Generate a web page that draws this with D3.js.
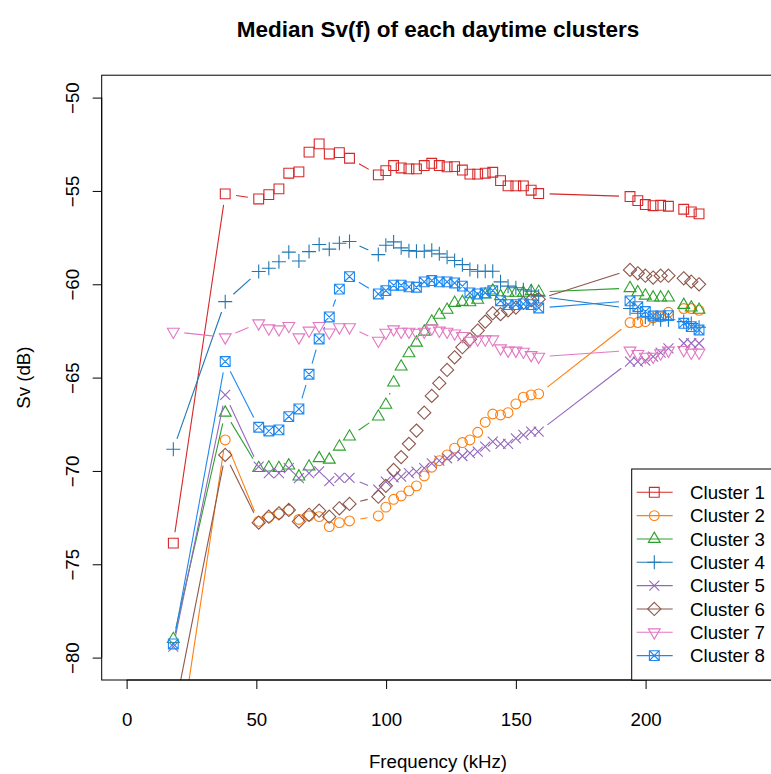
<!DOCTYPE html>
<html><head><meta charset="utf-8">
<script src="https://cdn.jsdelivr.net/npm/d3@7"></script>
<style>
body{margin:0;background:#fff}
svg{display:block}
text{font-family:"Liberation Sans",Arial,Helvetica,sans-serif;fill:#000}
</style>
</head><body><svg id="c" width="771" height="774"></svg>
<script>
// ---------- data ----------
const freqs = [18, 38,
  50.9, 54.8, 58.7, 62.5, 66.4, 70.3, 74.2, 78.1, 82.0, 85.9,
  97.0, 99.9, 102.9, 105.8, 108.8, 111.7, 114.7, 117.6, 120.5, 123.5, 126.4,
  129.4, 132.3, 135.3, 138.2, 141.1, 144.1, 147.0, 150.0, 152.9, 155.9, 158.8,
  194.0, 197.0, 199.9, 202.9, 205.8, 208.8, 214.7, 217.6, 220.6];

const cluster1 = [-73.87, -55.16,
  -55.43, -55.20, -54.89, -54.05, -53.98, -52.92, -52.48, -53.02, -52.95, -53.25,
  -54.14, -53.91, -53.64, -53.77, -53.82, -53.82, -53.64, -53.52, -53.64, -53.71, -53.70,
  -53.88, -54.10, -54.10, -54.05, -54.00, -54.45, -54.73, -54.73, -54.73, -54.96, -55.14,
  -55.30, -55.52, -55.73, -55.79, -55.77, -55.82, -55.98, -56.12, -56.23];
const cluster2 = [-86.8, -68.34,
  -72.70, -72.48, -72.30, -72.10, -72.60, -72.41, -72.45, -72.98, -72.77, -72.68,
  -72.41, -71.94, -71.52, -71.34, -71.07, -70.80, -70.27, -69.80, -69.45, -69.14, -68.78,
  -68.48, -68.34, -67.93, -67.39, -66.95, -67.00, -66.88, -66.41, -66.05, -65.93, -65.87,
  -62.05, -62.05, -62.00, -61.80, -61.75, -61.50, -61.30, -61.30, -61.40];
const cluster3 = [-79.01, -66.88,
  -69.85, -69.82, -69.85, -69.71, -70.30, -69.77, -69.32, -69.40, -68.70, -68.16,
  -67.09, -66.46, -65.27, -64.41, -63.70, -63.13, -62.54, -62.00, -61.64, -61.37, -61.00,
  -60.95, -60.97, -60.83, -60.55, -60.34, -60.64, -60.46, -60.46, -60.46, -60.37, -60.41,
  -60.21, -60.43, -60.61, -60.71, -60.71, -60.71, -61.11, -61.25, -61.37];
const cluster4 = [-68.84, -60.93,
  -59.32, -59.14, -58.79, -58.28, -58.75, -58.25, -57.87, -58.12, -57.80, -57.71,
  -58.41, -57.91, -57.73, -58.05, -58.20, -58.23, -58.23, -58.18, -58.37, -58.55, -58.73,
  -58.95, -59.21, -59.30, -59.30, -59.30, -59.87, -60.10, -60.19, -60.29, -60.37, -60.64,
  -61.30, -61.55, -61.75, -61.85, -61.90, -61.90, -62.00, -62.10, -62.30];
const cluster5 = [-79.41, -65.93,
  -69.77, -70.12, -70.12, -69.85, -70.39, -70.12, -70.02, -70.55, -70.37, -70.37,
  -71.00, -70.57, -70.34, -70.30, -70.12, -70.04, -69.85, -69.59, -69.45, -69.32, -69.14,
  -69.20, -69.05, -68.96, -68.70, -68.43, -68.55, -68.55, -68.25, -68.07, -67.89, -67.89,
  -64.14, -64.14, -64.09, -63.88, -63.66, -63.43, -63.16, -63.16, -63.16];
const cluster6 = [-83.2, -69.14,
  -72.77, -72.45, -72.27, -72.09, -72.71, -72.35, -72.13, -72.45, -72.00, -71.77,
  -71.38, -70.80, -69.95, -69.26, -68.55, -67.84, -66.88, -65.98, -65.30, -64.59, -63.91,
  -63.37, -62.95, -62.48, -62.00, -61.55, -61.60, -61.40, -61.25, -61.00, -60.85, -60.80,
  -59.23, -59.41, -59.54, -59.64, -59.54, -59.54, -59.68, -59.86, -60.00];
const cluster7 = [-62.54, -62.84,
  -62.09, -62.36, -62.41, -62.23, -62.84, -62.48, -62.23, -62.58, -62.30, -62.30,
  -63.02, -62.59, -62.41, -62.54, -62.54, -62.59, -62.54, -62.36, -62.48, -62.54, -62.63,
  -62.77, -63.02, -62.95, -62.95, -62.95, -63.43, -63.55, -63.55, -63.61, -63.79, -63.88,
  -63.55, -63.73, -63.88, -63.88, -63.70, -63.55, -63.52, -63.66, -63.66];
const cluster8 = [-79.27, -64.14,
  -67.66, -67.86, -67.80, -67.09, -66.68, -64.82, -62.93, -61.75, -60.26, -59.59,
  -60.52, -60.34, -60.05, -60.05, -60.14, -60.16, -59.87, -59.80, -59.87, -59.87, -59.93,
  -60.10, -60.46, -60.52, -60.46, -60.34, -60.88, -61.09, -61.09, -61.05, -61.09, -61.27,
  -60.89, -61.20, -61.46, -61.70, -61.70, -61.68, -62.09, -62.27, -62.45];

const seriesNames = ["Cluster 1","Cluster 2","Cluster 3","Cluster 4","Cluster 5","Cluster 6","Cluster 7","Cluster 8"];
const seriesValues = [cluster1, cluster2, cluster3, cluster4, cluster5, cluster6, cluster7, cluster8];
const seriesColors = ["#D62728","#FF7F0E","#2CA02C","#1F77B4","#9467BD","#8C564B","#E377C2","#1E88F0"];
const seriesShapes = ["square","circle","triUp","plus","cross","diamond","triDown","boxX"];
const xTicks = [0, 50, 100, 150, 200];
const yTicks = [-80, -75, -70, -65, -60, -55, -50];
const titleText = "Median Sv(f) of each daytime clusters";
const xLabelText = "Frequency (kHz)";
const yLabelText = "Sv (dB)";

// ---------- layout ----------
const L = 101.7, R = 774.3, T = 75.2, B = 680;
const FS = 18.7;
const x = d3.scaleLinear().domain([-9.6, 249.6]).range([L, R]);
const y = d3.scaleLinear().domain([-81.2, -48.8]).range([B, T]);
const svg = d3.select("#c");
const fmt = d => d < 0 ? "\u2212" + Math.abs(d) : String(d);

svg.append("defs").append("clipPath").attr("id","clip")
  .append("rect").attr("x", L).attr("y", T).attr("width", R - L).attr("height", B - T);

function markerPath(shape, cx, cy) {
  const p = d3.path();
  if (shape === "square" || shape === "boxX") {
    const h = 4.9;
    p.rect(cx - h, cy - h, 2*h, 2*h);
    if (shape === "boxX") {
      p.moveTo(cx - h, cy - h); p.lineTo(cx + h, cy + h);
      p.moveTo(cx - h, cy + h); p.lineTo(cx + h, cy - h);
    }
  } else if (shape === "circle") {
    p.moveTo(cx + 4.9, cy); p.arc(cx, cy, 4.9, 0, 2*Math.PI);
  } else if (shape === "triUp" || shape === "triDown") {
    const b = 4.4, s = shape === "triUp" ? 1 : -1;
    p.moveTo(cx, cy - s*1.555*b);
    p.lineTo(cx + 1.347*b, cy + s*0.778*b);
    p.lineTo(cx - 1.347*b, cy + s*0.778*b);
    p.closePath();
  } else if (shape === "plus") {
    const h = 7;
    p.moveTo(cx - h, cy); p.lineTo(cx + h, cy);
    p.moveTo(cx, cy - h); p.lineTo(cx, cy + h);
  } else if (shape === "cross") {
    const h = 5;
    p.moveTo(cx - h, cy - h); p.lineTo(cx + h, cy + h);
    p.moveTo(cx - h, cy + h); p.lineTo(cx + h, cy - h);
  } else if (shape === "diamond") {
    const h = 6.6;
    p.moveTo(cx, cy - h); p.lineTo(cx + h, cy); p.lineTo(cx, cy + h); p.lineTo(cx - h, cy); p.closePath();
  }
  return p.toString();
}

// ---------- series (type = "b": lines with gaps around points) ----------
const plotG = svg.append("g").attr("clip-path", "url(#clip)");
const GAP = 11;
seriesValues.forEach((vals, si) => {
  const col = seriesColors[si];
  const pts = freqs.map((f, i) => [x(f), y(vals[i])]);
  const g = plotG.append("g");
  const segs = [];
  for (let i = 0; i < pts.length - 1; i++) {
    const [x1, y1] = pts[i], [x2, y2] = pts[i+1];
    const dx = x2 - x1, dy = y2 - y1, d = Math.hypot(dx, dy);
    if (d > 2*GAP) {
      const ux = dx/d, uy = dy/d;
      segs.push([x1 + ux*GAP, y1 + uy*GAP, x2 - ux*GAP, y2 - uy*GAP]);
    }
  }
  g.selectAll("line").data(segs).join("line")
    .attr("x1", d => d[0]).attr("y1", d => d[1]).attr("x2", d => d[2]).attr("y2", d => d[3])
    .attr("stroke", col).attr("stroke-width", 1.1);
  g.selectAll("path").data(pts).join("path")
    .attr("d", d => markerPath(seriesShapes[si], d[0], d[1]))
    .attr("fill", "none").attr("stroke", col).attr("stroke-width", 1.1);
});

// ---------- frame & axes ----------
svg.append("rect").attr("x", L).attr("y", T).attr("width", R - L).attr("height", B - T)
  .attr("fill", "none").attr("stroke", "#000").attr("stroke-width", 1);

const xAxis = svg.append("g").attr("transform", `translate(0,${B})`)
  .call(d3.axisBottom(x).tickValues(xTicks).tickSize(9).tickPadding(23.6).tickFormat(fmt));
xAxis.select(".domain").remove();
xAxis.append("line").attr("x1", x(xTicks[0])).attr("x2", x(xTicks[xTicks.length-1]))
  .attr("stroke", "#000");
xAxis.selectAll("text").attr("font-size", FS).attr("fill", "#000")
  .style("font-family", '"Liberation Sans",Arial,sans-serif');

const yAxis = svg.append("g").attr("transform", `translate(${L},0)`)
  .call(d3.axisLeft(y).tickValues(yTicks).tickSize(9).tickFormat(fmt));
yAxis.select(".domain").remove();
yAxis.append("line").attr("y1", y(yTicks[0])).attr("y2", y(yTicks[yTicks.length-1]))
  .attr("stroke", "#000");
yAxis.selectAll("text").attr("font-size", FS).attr("fill", "#000")
  .attr("transform", "rotate(-90)").attr("x", 0).attr("y", -22.4).attr("dy", 0)
  .attr("text-anchor", "middle")
  .style("font-family", '"Liberation Sans",Arial,sans-serif');

// ---------- titles ----------
svg.append("text").attr("x", (L + R)/2).attr("y", 37).attr("text-anchor", "middle")
  .attr("font-size", 22.5).attr("font-weight", "bold").text(titleText);
svg.append("text").attr("x", (L + R)/2).attr("y", 767.5).attr("text-anchor", "middle")
  .attr("font-size", FS).text(xLabelText);
svg.append("text").attr("transform", `translate(30,${(T + B)/2}) rotate(-90)`)
  .attr("text-anchor", "middle").attr("font-size", FS).text(yLabelText);

// ---------- legend ----------
const lg = svg.append("g");
const LX = 631.7, LY = 469;
lg.append("rect").attr("x", LX).attr("y", LY).attr("width", R - LX).attr("height", B - LY)
  .attr("fill", "#fff").attr("stroke", "#000").attr("stroke-width", 1);
seriesNames.forEach((name, i) => {
  const ry = 492.3 + i*23.33;
  const col = seriesColors[i];
  lg.append("line").attr("x1", 636.7).attr("x2", 672.7).attr("y1", ry).attr("y2", ry)
    .attr("stroke", col).attr("stroke-width", 1.1);
  lg.append("path").attr("d", markerPath(seriesShapes[i], 654.3, ry))
    .attr("fill", "none").attr("stroke", col).attr("stroke-width", 1.1);
  lg.append("text").attr("x", 690).attr("y", ry + 6.7).attr("font-size", FS).text(name);
});
</script>
</body></html>
